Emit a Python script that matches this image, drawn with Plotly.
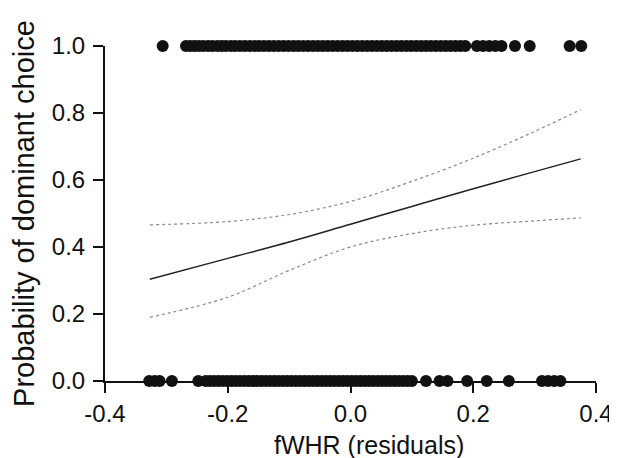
import plotly.graph_objects as go

# Observed choices (1 = dominant choice, 0 = other), x = fWHR residuals
top_x = [-0.306,
         -0.268, -0.261, -0.254, -0.247, -0.240, -0.232, -0.225, -0.217, -0.210, -0.203,
         -0.195, -0.188, -0.180, -0.172, -0.164, -0.156, -0.149, -0.141, -0.133, -0.125,
         -0.117, -0.109, -0.101, -0.093, -0.085, -0.077, -0.069, -0.061, -0.053, -0.045,
         -0.037, -0.029, -0.021, -0.013, -0.005, 0.003, 0.011, 0.019, 0.027, 0.035,
         0.043, 0.051, 0.059, 0.067, 0.075, 0.083, 0.091, 0.099, 0.107, 0.115,
         0.123, 0.131, 0.139, 0.147, 0.155, 0.163, 0.171, 0.179, 0.187,
         0.206, 0.216, 0.226, 0.236, 0.246,
         0.268, 0.292,
         0.357, 0.376]
top_y = [1.0] * len(top_x)

bottom_x = [-0.328, -0.319, -0.311, -0.291, -0.248,
            -0.236, -0.229, -0.222, -0.215, -0.208, -0.201, -0.194, -0.187, -0.180, -0.173,
            -0.166, -0.159, -0.152, -0.145, -0.138, -0.131, -0.124, -0.117, -0.110, -0.103,
            -0.096, -0.089, -0.082, -0.075, -0.068, -0.061, -0.054, -0.047, -0.040, -0.033,
            -0.026, -0.019, -0.012, -0.005, 0.002, 0.009, 0.016, 0.023, 0.030, 0.037,
            0.044, 0.051, 0.058, 0.065, 0.072, 0.079, 0.086, 0.093, 0.100,
            0.123, 0.145, 0.158, 0.190, 0.222, 0.258,
            0.312, 0.322, 0.332, 0.342]
bottom_y = [0.0] * len(bottom_x)

# Fitted logistic curve and 95% confidence band
fit_x = [-0.327, -0.2, -0.1, 0.0, 0.1, 0.2, 0.3, 0.375]
fit_y = [0.304, 0.366, 0.415, 0.468, 0.521, 0.574, 0.625, 0.663]
ci_upper = [0.466, 0.476, 0.497, 0.536, 0.596, 0.665, 0.745, 0.81]
ci_lower = [0.19, 0.25, 0.33, 0.40, 0.44, 0.465, 0.478, 0.487]

x_ticks = [-0.4, -0.2, 0.0, 0.2, 0.4]
y_ticks = [0.0, 0.2, 0.4, 0.6, 0.8, 1.0]

fig = go.Figure()
fig.add_trace(go.Scatter(x=fit_x, y=ci_upper, mode="lines", line=dict(color="#8a8a8a", width=1.2, dash="dot", shape="spline"), hoverinfo="skip"))
fig.add_trace(go.Scatter(x=fit_x, y=ci_lower, mode="lines", line=dict(color="#8a8a8a", width=1.2, dash="dot", shape="spline"), hoverinfo="skip"))
fig.add_trace(go.Scatter(x=fit_x, y=fit_y, mode="lines", line=dict(color="#222222", width=1.5, shape="spline")))
fig.add_trace(go.Scatter(x=top_x, y=top_y, mode="markers", marker=dict(color="#111111", size=12), cliponaxis=False))
fig.add_trace(go.Scatter(x=bottom_x, y=bottom_y, mode="markers", marker=dict(color="#111111", size=12), cliponaxis=False))

font = "Liberation Sans, Arial, sans-serif"
fig.update_layout(
    width=617, height=458,
    margin=dict(l=97, r=18, t=38, b=85),
    plot_bgcolor="white", paper_bgcolor="white",
    showlegend=False,
    font=dict(family=font, color="#111111"),
)
fig.add_annotation(
    text="fWHR (residuals)", xref="paper", yref="paper", x=0.5, y=0,
    xshift=18, yshift=-64, xanchor="center", yanchor="middle", showarrow=False,
    font=dict(size=25, family=font, color="#111111"),
)
fig.update_xaxes(
    range=[-0.4, 0.4], tickvals=x_ticks, ticktext=[f"{v:.1f}" for v in x_ticks],
    showline=True, linecolor="#111111", linewidth=2, ticks="outside", ticklen=10, tickwidth=2,
    tickcolor="#111111", showgrid=False, zeroline=False,
    tickfont=dict(size=24, family=font),
)
fig.update_yaxes(
    range=[0, 1], tickvals=y_ticks, ticktext=[f"{v:.1f}" for v in y_ticks],
    showline=True, linecolor="#111111", linewidth=2, ticks="outside", ticklen=10, tickwidth=2,
    tickcolor="#111111", showgrid=False, zeroline=False, ticklabelstandoff=3,
    tickfont=dict(size=24, family=font),
    title=dict(text="Probability of dominant choice", font=dict(size=29, family=font), standoff=12),
)
fig.write_html("out.html")
